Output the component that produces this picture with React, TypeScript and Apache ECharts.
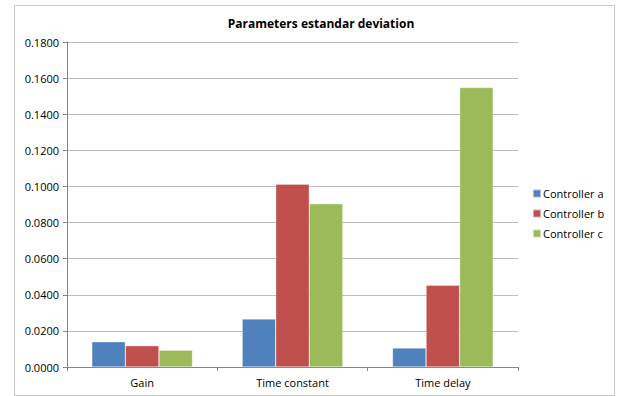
import React, { useEffect, useRef } from "react";
import * as echarts from "echarts";

const categories = ["Gain", "Time constant", "Time delay"];
const seriesNames = ["Controller a", "Controller b", "Controller c"];
const controllerA = [0.0140, 0.0266, 0.0105];
const controllerB = [0.0118, 0.1013, 0.0453];
const controllerC = [0.0093, 0.0904, 0.1548];
const colors = ["#4F81BD", "#C0504D", "#9BBB59"];
const titleText = "Parameters estandar deviation";

const FONT = "'Open Sans', 'Liberation Sans', sans-serif";

export default function App() {
  const ref = useRef<HTMLDivElement>(null);

  useEffect(() => {
    if (!ref.current) return;
    const chart = echarts.init(ref.current, null, { renderer: "svg" });
    const values = [controllerA, controllerB, controllerC];
    chart.setOption({
      animation: false,
      backgroundColor: "#ffffff",
      title: {
        text: titleText,
        left: 316,
        textAlign: "center",
        top: 12,
        textStyle: { fontFamily: FONT, fontSize: 12, fontWeight: "bold", color: "#000" },
      },
      graphic: [
        {
          type: "rect",
          shape: { x: 14.5, y: 5.5, width: 600, height: 390 },
          style: { fill: "none", stroke: "#c8c8c8", lineWidth: 1 },
          silent: true,
        },
      ],
      legend: {
        orient: "vertical",
        left: 532,
        top: 188,
        padding: 0,
        itemWidth: 8,
        itemHeight: 8,
        itemGap: 9,
        icon: "rect",
        textStyle: { fontFamily: FONT, fontSize: 11, color: "#000", padding: [0, 0, 0, -3] },
        data: seriesNames,
      },
      grid: { left: 67, top: 42, width: 451, height: 325, containLabel: false },
      xAxis: {
        type: "category",
        data: categories,
        axisLine: { lineStyle: { color: "#868686", width: 1 } },
        axisTick: { show: true, alignWithLabel: false, length: 4, lineStyle: { color: "#868686" } },
        axisLabel: { fontFamily: FONT, fontSize: 11, color: "#000", margin: 10 },
      },
      yAxis: {
        type: "value",
        min: 0,
        max: 0.18,
        interval: 0.02,
        axisLine: { show: true, lineStyle: { color: "#868686", width: 1 } },
        axisTick: { show: true, length: 4, lineStyle: { color: "#868686" } },
        axisLabel: {
          fontFamily: FONT,
          fontSize: 11,
          color: "#000",
          margin: 8,
          formatter: (v: number) => v.toFixed(4),
        },
        splitLine: { lineStyle: { color: "#bdbdbd", width: 1 } },
      },
      series: seriesNames.map((name, i) => ({
        name,
        type: "bar",
        data: values[i],
        barGap: "0%",
        barCategoryGap: "33%",
        itemStyle: { color: colors[i], borderColor: "rgba(255,255,255,0.5)", borderWidth: 0.6 },
      })),
    });
    return () => chart.dispose();
  }, []);

  return (
    <div
      ref={ref}
      style={{ position: "fixed", left: 0, top: 0, width: 617, height: 396 }}
    />
  );
}
